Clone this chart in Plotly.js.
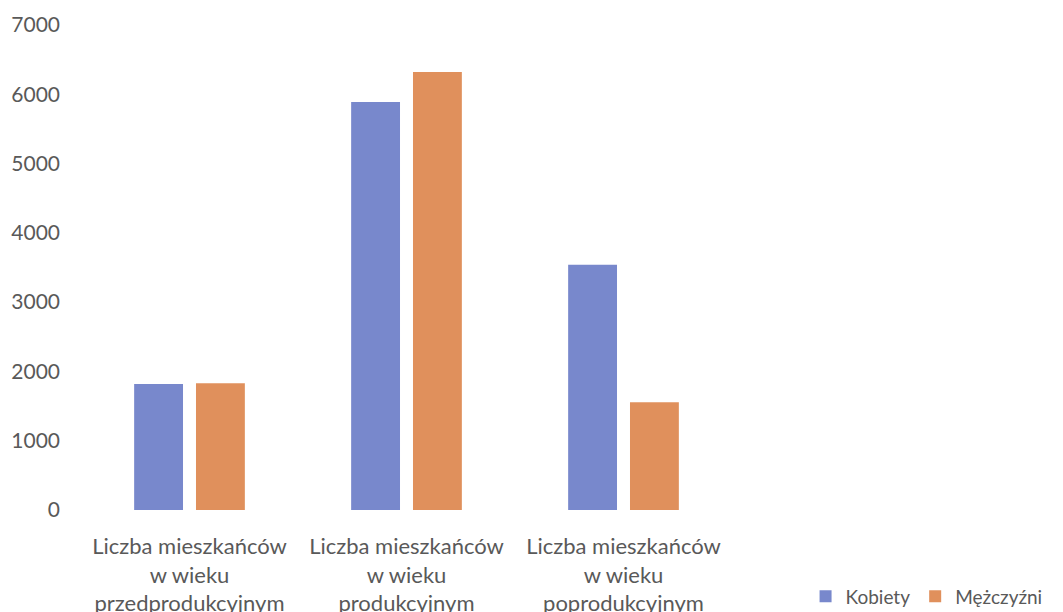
<!DOCTYPE html>
<html>
<head>
<meta charset="utf-8">
<script src="https://cdn.plot.ly/plotly-3.0.1.min.js"></script>
<style>html,body{margin:0;padding:0;background:#fff;}#chart{width:1063px;height:612px;}</style>
</head>
<body>
<div id="chart"></div>
<script>
const categories = [
  "Liczba mieszkańców<br>w wieku<br>przedprodukcyjnym",
  "Liczba mieszkańców<br>w wieku<br>produkcyjnym",
  "Liczba mieszkańców<br>w wieku<br>poprodukcyjnym"
];
const kobiety = [1820, 5890, 3540];
const mezczyzni = [1830, 6320, 1555];
const yTicks = [0, 1000, 2000, 3000, 4000, 5000, 6000, 7000];

const traces = [
  {type: 'bar', name: 'Kobiety', x: categories, y: kobiety, marker: {color: '#7888cc'}, hoverinfo: 'none'},
  {type: 'bar', name: 'Mężczyźni', x: categories, y: mezczyzni, marker: {color: '#e0905c'}, hoverinfo: 'none'}
];
const layout = {
  width: 1063, height: 612,
  margin: {l: 81, r: 331, t: 24.5, b: 101.5, autoexpand: false},
  paper_bgcolor: '#fff', plot_bgcolor: '#fff',
  font: {family: 'Lato, sans-serif', color: '#595959', size: 21},
  barmode: 'group', bargap: 0.43, bargroupgap: 0.21,
  xaxis: {automargin: false, showgrid: false, zeroline: false, showline: false, ticks: '', ticklabelstandoff: 21, tickfont: {size: 22}, fixedrange: true},
  yaxis: {automargin: false, range: [0, 7000], tickvals: yTicks, ticktext: yTicks.map(String), showgrid: false, zeroline: false, showline: false, ticks: '', ticklabelstandoff: 20, tickfont: {size: 21}, fixedrange: true},
  showlegend: true,
  legend: {orientation: 'h', x: 1.113, xanchor: 'left', y: -0.178, yanchor: 'middle', font: {size: 19, color: '#595959'}, itemwidth: 30, tracegroupgap: 0}
};
Plotly.newPlot('chart', traces, layout, {staticPlot: true, displayModeBar: false});
</script>
</body>
</html>
